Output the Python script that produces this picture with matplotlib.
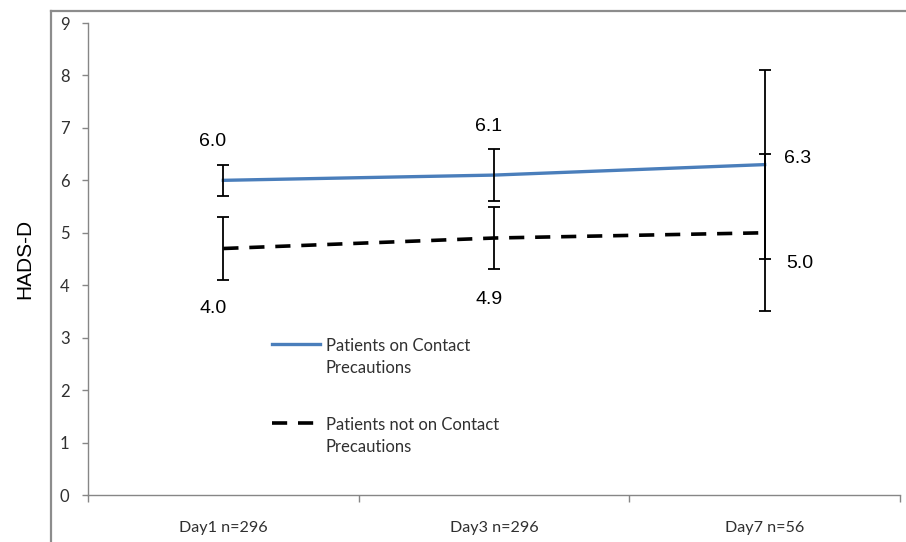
import matplotlib
matplotlib.use('Agg')
import matplotlib.pyplot as plt
from matplotlib.lines import Line2D
import numpy as np

days = ['Day1 n=296', 'Day3 n=296', 'Day7 n=56']
on_cp = [6.0, 6.1, 6.3]
on_cp_err = [0.3, 0.5, 1.8]
off_cp = [4.7, 4.9, 5.0]
off_cp_err = [0.6, 0.6, 1.5]
# labels as printed on the chart
on_cp_labels = ['6.0', '6.1', '6.3']
off_cp_labels = ['4.0', '4.9', '5.0']

W, H = 906, 542
fig = plt.figure(figsize=(W / 100, H / 100), dpi=100)
ax = fig.add_axes([88 / W, 1 - 495 / H, (900 - 88) / W, (495 - 23) / H])

x = np.arange(len(days))
blue = '#4a7ebb'

ax.plot(x, on_cp, color=blue, lw=2.4, label='Patients on Contact\nPrecautions', zorder=3)
ax.plot(x, off_cp, color='black', lw=2.6, linestyle=(0, (4.2, 3.0)),
        label='Patients not on Contact\nPrecautions', zorder=3)
ax.errorbar(x, on_cp, yerr=on_cp_err, fmt='none', ecolor='black', elinewidth=1.3,
            capsize=4.5, capthick=1.3, zorder=4)
ax.errorbar(x, off_cp, yerr=off_cp_err, fmt='none', ecolor='black', elinewidth=1.3,
            capsize=4.5, capthick=1.3, zorder=4)

# data labels
lab_font = dict(family='Liberation Sans', size=14, color='black')
ax.text(x[0] - 0.038, 6.75, on_cp_labels[0], ha='center', va='center', **lab_font)
ax.text(x[0] - 0.038, 3.55, off_cp_labels[0], ha='center', va='center', **lab_font)
ax.text(x[1] - 0.019, 7.02, on_cp_labels[1], ha='center', va='center', **lab_font)
ax.text(x[1] - 0.019, 3.72, off_cp_labels[1], ha='center', va='center', **lab_font)
ax.text(x[2] + 0.071, 6.41, on_cp_labels[2], ha='left', va='center', **lab_font)
ax.text(x[2] + 0.078, 4.42, off_cp_labels[2], ha='left', va='center', **lab_font)

ax.set_xlim(-0.5, 2.5)
ax.set_ylim(0, 9)
ax.set_yticks(range(0, 10))
ax.set_xticks(x)
ax.set_xticklabels(days)
ax.set_xticks([-0.5, 0.5, 1.5, 2.5], minor=True)

for s in ['top', 'right']:
    ax.spines[s].set_visible(False)
for s in ['left', 'bottom']:
    ax.spines[s].set_color('#868686')
    ax.spines[s].set_linewidth(1.0)

ax.tick_params(axis='y', direction='out', length=4.3, color='#868686', width=1,
               labelsize=12, labelcolor='#303030', pad=9)
ax.tick_params(axis='x', which='major', length=0, labelsize=11.6,
               labelcolor='#303030', pad=19)
ax.tick_params(axis='x', which='minor', direction='out', length=5,
               color='#868686', width=1)
for t in ax.get_xticklabels() + ax.get_yticklabels():
    t.set_family('Lato')

fig.text(25 / W, 1 - 259 / H, 'HADS-D', rotation=90, ha='center', va='center',
         family='Liberation Sans', size=15)

leg = ax.legend(loc='upper left', bbox_to_anchor=(264 / W, 1 - 330 / H),
                bbox_transform=fig.transFigure, frameon=False,
                prop=dict(family='Lato', size=12), handlelength=2.85,
                handletextpad=0.35, labelspacing=2.45, borderpad=0)
for t in leg.get_texts():
    t.set_color('#303030')
    t.set_linespacing(1.45)
# put the legend line next to the first text line, as in Excel
for row in leg._legend_handle_box.get_children():
    for entry in row.get_children():
        entry.align = 'top'

# chart area border
fig.add_artist(Line2D([51 / W, 51 / W], [0, 1 - 11 / H], color='#8c8c8c', lw=1.6,
                      transform=fig.transFigure))
fig.add_artist(Line2D([51 / W, 1], [1 - 11 / H, 1 - 11 / H], color='#8c8c8c', lw=1.6,
                      transform=fig.transFigure))

fig.savefig('out.png', dpi=100)
